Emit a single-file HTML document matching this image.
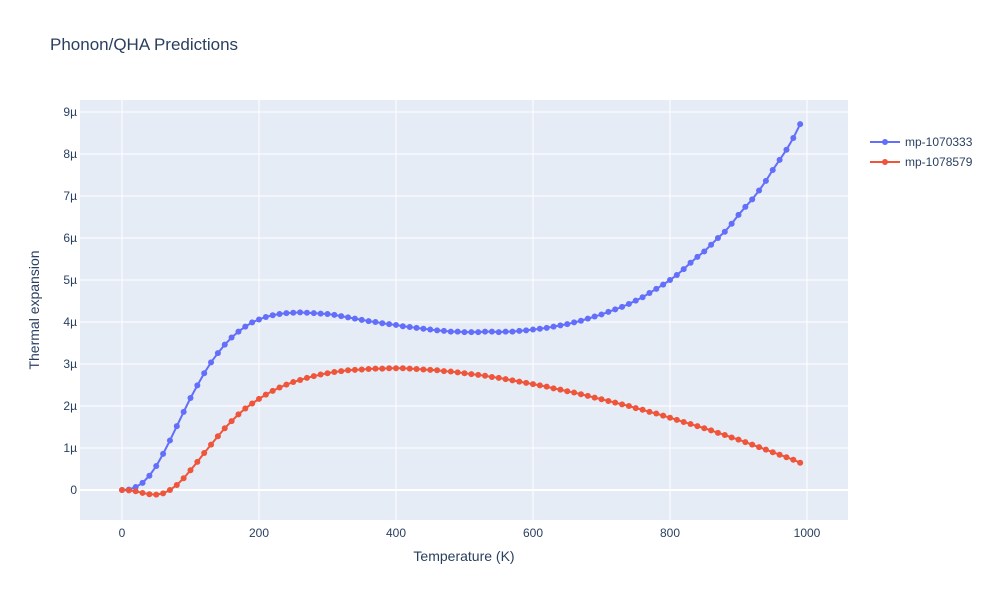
<!DOCTYPE html>
<html><head><meta charset="utf-8"><style>
body{margin:0;background:#fff;font-family:"Liberation Sans",sans-serif}
svg text{font-family:"Liberation Sans",sans-serif}
</style></head><body>
<svg id="chart" width="1000" height="600">
<rect width="1000" height="600" fill="#fff"/>
<text x="50" y="50" font-size="17" fill="#2a3f5f">Phonon/QHA Predictions</text>
<rect x="80" y="100" width="768" height="420" fill="#e5ecf6"/>
<g id="grid"></g><g id="series"></g><g id="ticks"></g>
<text x="464" y="561" font-size="14" fill="#2a3f5f" text-anchor="middle">Temperature (K)</text>
<text transform="translate(39,310) rotate(-90)" font-size="14" fill="#2a3f5f" text-anchor="middle">Thermal expansion</text>
<g>
<g><line x1="870" y1="142" x2="900" y2="142" stroke="#636efa" stroke-width="2"/><circle cx="885" cy="142" r="3" fill="#636efa"/><text x="905" y="146" font-size="12" fill="#2a3f5f">mp-1070333</text></g>
<g><line x1="870" y1="162" x2="900" y2="162" stroke="#ef553b" stroke-width="2"/><circle cx="885" cy="162" r="3" fill="#ef553b"/><text x="905" y="166" font-size="12" fill="#2a3f5f">mp-1078579</text></g>
</g>
</svg>
<script>
const temps = []; for (let t = 0; t <= 990; t += 10) temps.push(t);
const seriesA = [0,0.01,0.07,0.17,0.34,0.57,0.86,1.18,1.52,1.86,2.19,2.49,2.78,3.04,3.26,3.46,3.63,3.77,3.89,3.99,4.06,4.12,4.16,4.19,4.21,4.22,4.23,4.22,4.21,4.20,4.19,4.17,4.14,4.11,4.08,4.05,4.02,4.00,3.97,3.95,3.93,3.90,3.88,3.86,3.84,3.82,3.80,3.79,3.77,3.77,3.76,3.76,3.76,3.77,3.77,3.76,3.77,3.77,3.79,3.80,3.82,3.84,3.86,3.89,3.92,3.95,3.99,4.03,4.08,4.13,4.18,4.24,4.30,4.36,4.43,4.51,4.59,4.69,4.79,4.89,5.00,5.12,5.26,5.41,5.55,5.68,5.84,6.00,6.15,6.34,6.55,6.74,6.92,7.13,7.36,7.62,7.86,8.10,8.38,8.71];
const seriesB = [0,-0.01,-0.03,-0.07,-0.10,-0.11,-0.08,0.0,0.12,0.28,0.47,0.67,0.88,1.08,1.28,1.47,1.64,1.80,1.94,2.06,2.17,2.27,2.36,2.44,2.51,2.57,2.62,2.67,2.71,2.75,2.78,2.81,2.83,2.85,2.86,2.87,2.88,2.89,2.89,2.90,2.90,2.90,2.89,2.88,2.87,2.86,2.85,2.83,2.82,2.80,2.78,2.76,2.74,2.72,2.69,2.67,2.64,2.61,2.58,2.55,2.52,2.49,2.46,2.42,2.39,2.35,2.32,2.28,2.24,2.20,2.16,2.12,2.08,2.04,2.00,1.95,1.91,1.86,1.82,1.77,1.72,1.67,1.62,1.57,1.52,1.47,1.42,1.36,1.31,1.25,1.20,1.14,1.08,1.02,0.96,0.90,0.84,0.78,0.72,0.65];
const xTicks = [0,200,400,600,800,1000];
const yTicks = [0,1,2,3,4,5,6,7,8,9];
const yTickLabels = ["0","1µ","2µ","3µ","4µ","5µ","6µ","7µ","8µ","9µ"];
const NS = "http://www.w3.org/2000/svg";
const xs = t => 122 + (t) * 0.685;
const ys = v => 490 - v * 42;
function mk(tag, attrs, parent){const e=document.createElementNS(NS,tag);for(const k in attrs)e.setAttribute(k,attrs[k]);parent.appendChild(e);return e;}
const grid=document.getElementById('grid'), ticks=document.getElementById('ticks'), ser=document.getElementById('series');
xTicks.forEach(t=>{
  const l=mk('line',{x1:xs(t),x2:xs(t),y1:100,y2:520,stroke:'#fff','stroke-width':1},grid);
  
  
  const tx=mk('text',{x:xs(t),y:537,'font-size':12,fill:'#2a3f5f','text-anchor':'middle'},ticks);
  tx.textContent=t;
  
  
});
yTicks.forEach((v,i)=>{
  const l=mk('line',{x1:80,x2:848,y1:ys(v),y2:ys(v),stroke:'#fff','stroke-width':v===0?2:1},grid);
  
  
  const tx=mk('text',{x:77,y:ys(v)+4,'font-size':12,fill:'#2a3f5f','text-anchor':'end'},ticks);
  tx.textContent=yTickLabels[i];
  
  
});
function draw(vals,color,name){
  const g=mk('g',{},ser);
  
  
  const pts=vals.map((v,i)=>xs(temps[i])+','+ys(v)).join(' ');
  const p=mk('polyline',{points:pts,fill:'none',stroke:color,'stroke-width':2},g);
  
  
  vals.forEach((v,i)=>{
    const c=mk('circle',{cx:xs(temps[i]),cy:ys(v),r:3,fill:color},g);
    
    
  });
}
draw(seriesA,'#636efa','series-mp-1070333');
draw(seriesB,'#ef553b','series-mp-1078579');
</script>
</body></html>
